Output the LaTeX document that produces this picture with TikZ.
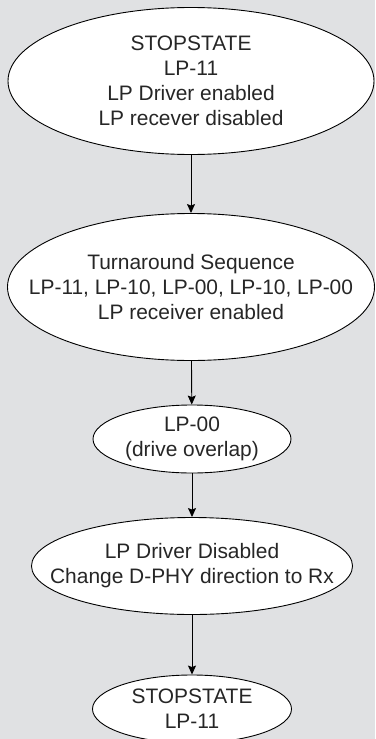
\documentclass[tikz,border=0pt]{standalone}
\usepackage{fontspec}
\setmainfont{Liberation Sans}
\usetikzlibrary{shapes.geometric,arrows.meta}
\definecolor{bgc}{RGB}{224,225,227}
\begin{document}
\begin{tikzpicture}[x=1bp,y=-1bp,
  st/.style={ellipse,draw=black,line width=0.9bp,fill=white,inner sep=0pt},
  txt/.style={align=center,inner sep=0pt,font=\fontsize{21}{25}\selectfont,text=black!85},
  arr/.style={line width=0.9bp,-{Stealth[length=9bp,width=8bp,inset=1.5bp]}}]
\fill[bgc] (0,0) rectangle (375,739);
\useasboundingbox (0,0) rectangle (375,739);
\begin{scope}
\clip (0,0) rectangle (375,739);
\node[st,minimum width=366bp,minimum height=147bp] (s1) at (191,81) {};
\node[txt] (t1) at (s1.center)
  {STOPSTATE\\LP-11\\LP Driver enabled\\LP recever disabled};
\node[st,minimum width=367bp,minimum height=147bp] (s2) at (191,287) {};
\node[txt] (t2) at (s2.center)
  {Turnaround Sequence\\LP-11, LP-10, LP-00, LP-10, LP-00\\LP receiver enabled};
\node[st,minimum width=198bp,minimum height=68bp] (s3) at (192,439) {};
\node[txt] (t3) at (s3.center) {LP-00\\(drive overlap)};
\node[st,minimum width=321bp,minimum height=97bp] (s4) at (192,566) {};
\node[txt] (t4) at (s4.center)
  {LP Driver Disabled\\Change D-PHY direction to Rx};
\node[st,minimum width=199bp,minimum height=68bp] (s5) at (192,709) {};
\node[txt] (t5) at (s5.center) {STOPSTATE\\LP-11};
\draw[arr] (s1) -- (s2);
\draw[arr] (s2) -- (s3);
\draw[arr] (s3) -- (s4);
\draw[arr] (s4) -- (s5);
\end{scope}
\end{tikzpicture}
\end{document}
